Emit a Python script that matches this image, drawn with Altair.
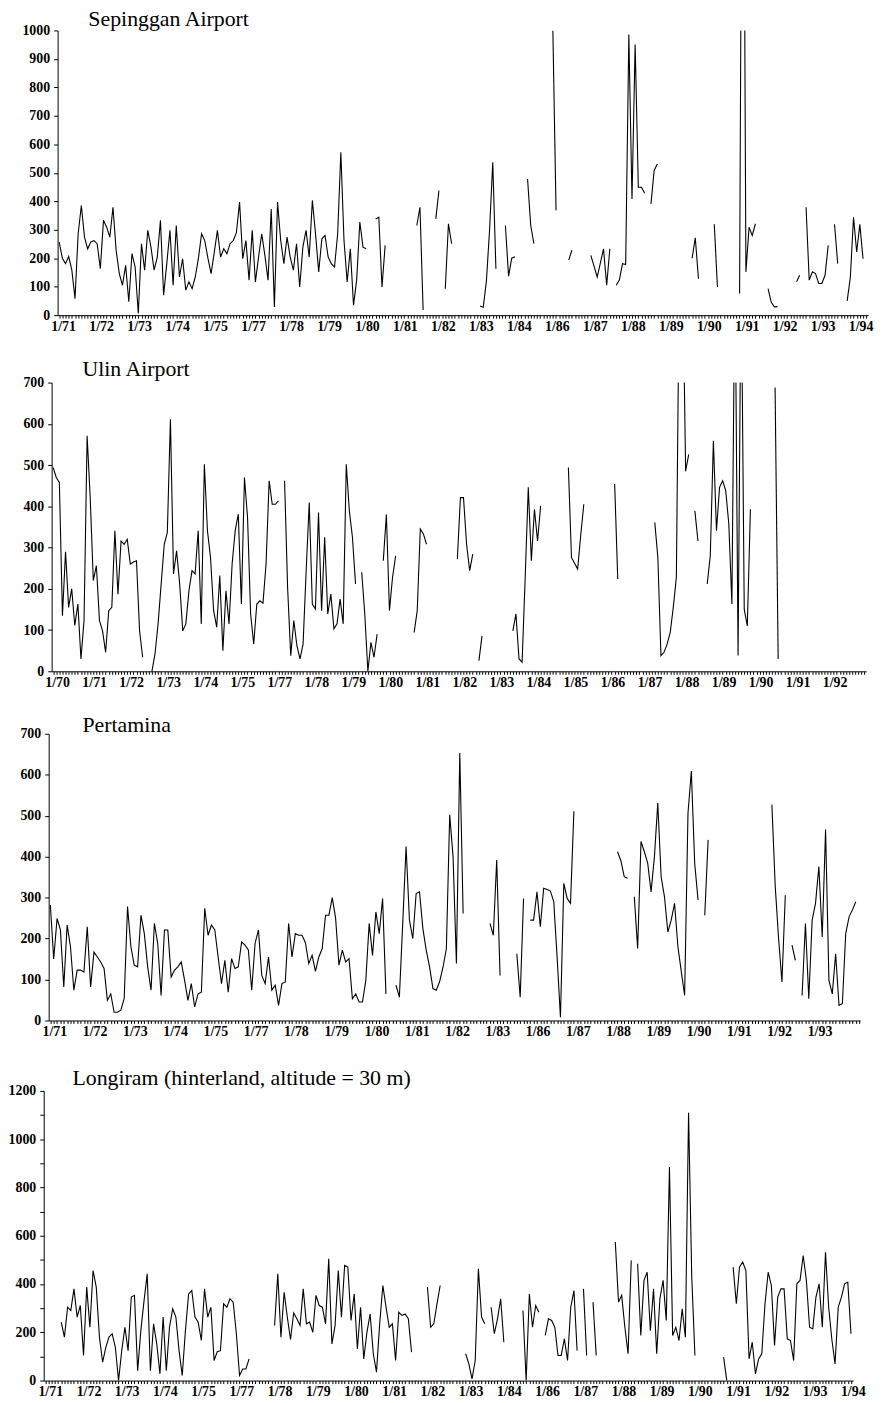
import altair as alt
import pandas as pd

N = None

# ---------------- data (monthly rainfall, mm; None = missing month) ----------------
SEP_LABELS = ['1/71', '1/72', '1/73', '1/74', '1/75', '1/77', '1/78', '1/79', '1/80', '1/81', '1/82',
              '1/83', '1/84', '1/86', '1/87', '1/88', '1/89', '1/90', '1/91', '1/92', '1/93', '1/94']
SEP = [257, 200, 181, 206, 158, 58, 286, 385, 274, 233, 257, 262,
       251, 163, 333, 309, 274, 379, 227, 146, 105, 175, 47, 216,
       169, 6, 251, 158, 298, 239, 158, 204, 333, 70, 181, 298,
       105, 315, 134, 198, 88, 117, 93, 134, 200, 286, 262, 200,
       146, 220, 298, 204, 233, 216, 251, 262, 290, 397, 198, 262,
       123, 298, 117, 204, 286, 210, 123, 373, 29, 397, 262, 181,
       274, 204, 158, 251, 99, 239, 298, 204, 403, 286, 152, 268,
       280, 204, 181, 169, 286, 572, 262, 117, 233, 35, 123, 327,
       239, 233, N, N, 338, 344, 99, 245, N, N, N, N,
       N, N, N, N, N, 315, 379, 18, N, N, N, 338,
       438, N, 93, 321, 251, N, N, N, N, N, N, N,
       N, 32, 28, 120, 300, 537, 163, N, N, 315, 137, 200,
       205, N, N, N, 478, 315, 251, N, N, N, N, N,
       1000, 368, N, N, N, 193, 228, N, N, N, N, N,
       210, 172, 134, 183, 233, 105, 233, N, 105, 123, 181, 178,
       986, 408, 951, 449, 449, 428, N, 391, 508, 531, N, N,
       N, N, N, N, N, N, N, N, 200, 272, 128, N,
       N, N, N, 319, 99, N, N, N, N, N, N, 76,
       2500, 152, 309, 280, 321, N, N, N, 93, 45, 29, 30,
       N, N, N, N, N, 117, 140, N, 379, 123, 152, 146,
       111, 111, 140, 245, N, 319, 181, N, N, 50, 134, 344,
       222, 319, 198, N]

ULIN_LABELS = ['1/70', '1/71', '1/72', '1/73', '1/74', '1/75', '1/77', '1/78', '1/79', '1/80', '1/81',
               '1/82', '1/83', '1/84', '1/85', '1/86', '1/87', '1/88', '1/89', '1/90', '1/91', '1/92']
ULIN = [494, 470, 458, 135, 290, 155, 200, 111, 163, 30, 123, 571,
        421, 220, 256, 123, 98, 46, 147, 155, 341, 187, 316, 308,
        320, 260, 265, 268, 98, 34, N, N, 0, 42, 115, 212,
        308, 337, 611, 236, 292, 212, 98, 115, 195, 244, 236, 341,
        115, 502, 341, 276, 147, 107, 232, 50, 195, 115, 260, 341,
        381, 163, 470, 373, 139, 66, 163, 171, 165, 260, 462, 405,
        405, 413, N, 462, 200, 38, 123, 62, 30, 66, 244, 409,
        163, 151, 385, 147, 325, 139, 187, 103, 115, 175, 115, 502,
        389, 325, 212, N, 240, 139, 0, 70, 34, 90, N, 268,
        380, 147, 228, 280, N, N, N, N, N, 94, 147, 345,
        333, 308, N, N, N, N, N, N, N, N, N, 272,
        421, 421, 308, 244, 284, N, 26, 86, N, N, N, N,
        N, N, N, N, N, 98, 139, 30, 22, 228, 446, 268,
        393, 316, 401, N, N, N, N, N, N, N, N, 494,
        276, 262, 248, 330, 405, N, N, N, N, N, N, N,
        N, N, 454, 224, N, N, N, N, N, N, N, N,
        N, N, N, 361, 276, 38, 46, 66, 94, 155, 228, 1000,
        1000, 485, 526, N, 389, 316, N, N, 212, 280, 559, 341,
        446, 462, 438, 357, 163, 1000, 38, 1000, 150, 110, 393, N,
        N, N, N, N, N, N, 688, 30]

PERT_LABELS = ['1/71', '1/72', '1/73', '1/74', '1/75', '1/77', '1/78', '1/79', '1/80', '1/81',
               '1/82', '1/83', '1/86', '1/87', '1/88', '1/89', '1/90', '1/91', '1/92', '1/93']
PERT = [282, 150, 249, 221, 82, 233, 180, 74, 123, 123, 118, 229,
        82, 167, 155, 143, 127, 49, 65, 20, 20, 25, 53, 278,
        180, 135, 131, 257, 212, 131, 74, 237, 188, 61, 221, 221,
        106, 123, 131, 143, 98, 49, 90, 33, 65, 69, 274, 208,
        233, 221, 155, 90, 147, 69, 151, 127, 131, 192, 184, 172,
        74, 188, 221, 110, 90, 155, 74, 86, 37, 90, 94, 237,
        155, 212, 208, 208, 190, 139, 159, 120, 155, 175, 257, 257,
        300, 250, 135, 172, 143, 151, 53, 65, 45, 45, 98, 237,
        159, 265, 212, 298, 65, N, N, 86, 57, 237, 425, 245,
        200, 310, 314, 225, 172, 131, 78, 74, 95, 130, 175, 502,
        400, 139, 653, 261, N, N, N, N, N, N, N, 237,
        208, 392, 110, N, N, N, N, 163, 57, 298, N, 245,
        245, 314, 229, 323, 320, 316, 290, 155, 8, 335, 298, 286,
        511, N, N, N, N, N, N, N, N, N, N, N,
        N, 412, 390, 351, 347, N, 302, 176, 437, 412, 384, 314,
        400, 531, 351, 302, 216, 245, 286, 180, 120, 61, 506, 609,
        384, 294, N, 257, 441, N, N, N, N, N, N, N,
        N, N, N, N, N, N, N, N, N, N, N, 527,
        327, 200, 94, 306, N, 184, 147, N, 61, 237, 53, 245,
        286, 376, 204, 466, 98, 65, 163, 37, 41, 212, 253, 270,
        290]

LONG_LABELS = SEP_LABELS
LONG = [N, N, N, N, N, 242, 180, 304, 290, 380, 263, 311,
        104, 387, 221, 456, 387, 180, 76, 138, 180, 194, 138, 0,
        124, 221, 124, 346, 353, 41, 207, 330, 442, 41, 235, 152,
        28, 263, 41, 221, 297, 263, 124, 21, 207, 359, 373, 263,
        242, 166, 380, 263, 304, 83, 120, 124, 318, 304, 339, 325,
        194, 21, 48, 48, 90, N, N, N, N, N, N, N,
        228, 442, 180, 366, 263, 170, 280, 256, 228, 380, 235, 242,
        200, 353, 311, 304, 235, 505, 152, 228, 456, 263, 477, 470,
        249, 359, 131, 304, 90, 200, 276, 111, 35, 235, 394, 304,
        221, 235, 83, 283, 270, 276, 256, 118, N, N, N, N,
        387, 221, 235, 318, 394, N, N, N, N, N, N, N,
        111, 69, 7, 83, 463, 263, 235, N, 304, 194, 256, 339,
        159, N, N, N, N, N, 290, 0, 359, 221, 311, 283,
        N, 187, 256, 249, 221, 104, 104, 173, 83, 304, 373, 124,
        N, 380, 104, N, 325, 104, N, N, N, N, N, 574,
        325, 353, 221, 111, 498, N, 484, 187, 415, 449, 207, 380,
        111, 339, 415, 249, 885, 187, 221, 166, 297, 180, 1110, 429,
        104, N, N, N, N, N, N, N, N, 97, 0, N,
        470, 318, 470, 491, 456, 90, 159, 28, 90, 111, 318, 449,
        394, 145, 346, 380, 380, 173, 166, 83, 401, 415, 518, 415,
        221, 214, 346, 401, 221, 532, 304, 170, 69, 304, 346, 401,
        408, 194]

TITLES = ['Sepinggan Airport', 'Ulin Airport', 'Pertamina',
          'Longiram (hinterland, altitude = 30 m)']

FONT = 'Liberation Serif'
PLOT_W = 831
LABEL_SIZE = 14
SPACING = 60


def to_frame(values):
    rows, seg, prev = [], 0, None
    for m, v in enumerate(values):
        if v is None:
            prev = None
            continue
        if prev is None:
            seg += 1
        rows.append({'m': m, 'v': v, 'seg': seg})
        prev = v
    return pd.DataFrame(rows)


def panel(values, labels, title, ymax, ylab_step, x_end, r0, r1, plot_h, bottom_pad,
          tdx, toff, loff):
    df = to_frame(values)
    height = plot_h + bottom_pad
    js = '[' + ','.join("'%s'" % s for s in labels) + ']'
    n_lab = len(labels)
    x_axis = alt.Axis(
        values=list(range(0, int(x_end) + 1)),
        labelExpr=f"(datum.value % 12 == 0 && datum.value / 12 < {n_lab}) ? {js}[datum.value / 12] : ''",
        labelOverlap=False, labelFlush=False, labelAngle=0, offset=-bottom_pad,
        tickSize=3, labelPadding=1, labelOffset=loff, title=None,
        labelFont=FONT, labelFontSize=LABEL_SIZE, labelFontWeight='bold',
        domainColor='black', tickColor='black', labelColor='black', grid=False)
    y_axis = alt.Axis(
        values=list(range(0, ymax + 1, 100)),
        labelExpr=f"datum.value % {ylab_step} == 0 ? datum.value : ''",
        offset=-r0, tickSize=4, labelPadding=4, title=None,
        labelFont=FONT, labelFontSize=LABEL_SIZE, labelFontWeight='bold',
        domainColor='black', tickColor='black', labelColor='black', grid=False)
    line = alt.Chart(df).mark_line(color='black', strokeWidth=1.1, clip=True).encode(
        x=alt.X('m:Q', scale=alt.Scale(domain=[-0.5, x_end], range=[r0, r1], nice=False), axis=x_axis),
        y=alt.Y('v:Q', scale=alt.Scale(domain=[0, ymax], range=[plot_h, 0], nice=False),
                axis=y_axis),
        detail='seg:N')
    ttl = alt.Chart(pd.DataFrame({'t': [title]})).mark_text(
        align='left', baseline='alphabetic', font=FONT, fontSize=22, color='black').encode(
        text='t:N', x=alt.value(tdx), y=alt.value(-toff))
    return alt.layer(line, ttl).properties(width=PLOT_W, height=height)


p1 = panel(SEP, SEP_LABELS, TITLES[0], 1000, 100, 255.6, 14, 831, 287, 8, 45, 4, 4)
p2 = panel(ULIN, ULIN_LABELS, TITLES[1], 700, 100, 263.5, 8, 829, 291, 3, 39, 7, 4)
p3 = panel(PERT, PERT_LABELS, TITLES[2], 700, 100, 241.3, 5, 823, 289, 11, 39, 2, 4)
p4 = panel(LONG, LONG_LABELS, TITLES[3], 1200, 200, 253.7, 0, 816, 292, 0, 29, 6, 5)

chart = alt.vconcat(p1, p2, p3, p4, spacing=SPACING, bounds='flush').properties(
    padding={'left': 0, 'top': -5, 'right': 5, 'bottom': 2},
    background='white'
).configure_view(strokeWidth=0)

chart.save('out.html', embed_options={'renderer': 'svg', 'actions': False})
